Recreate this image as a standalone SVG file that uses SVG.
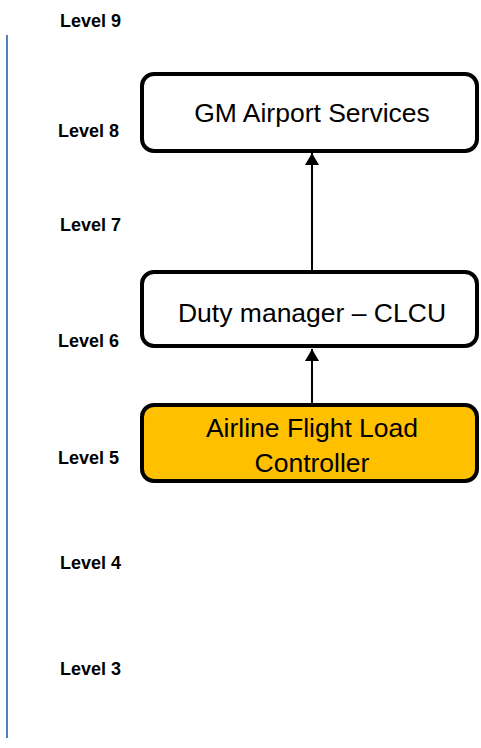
<svg xmlns="http://www.w3.org/2000/svg" width="481" height="748" viewBox="0 0 481 748">
<style>
.lvl{font-family:"Liberation Sans",Arial,sans-serif;font-weight:bold;font-size:18px;fill:#000}
.box{stroke:#000;stroke-width:4;fill:#fff}
.txt{font-family:"Liberation Sans",Arial,sans-serif;font-size:26.5px;fill:#000;text-anchor:middle}
.conn{stroke:#000;stroke-width:2;fill:none}
</style>
<defs>
<marker id="ah" markerWidth="14" markerHeight="14" refX="12" refY="7" orient="auto" markerUnits="userSpaceOnUse">
<path d="M0,0 L12,7 L0,14 Z" fill="#000"/>
</marker>
</defs>
<rect width="481" height="748" fill="#fff"/>
<line x1="7" y1="35" x2="7" y2="738" stroke="#4F81BD" stroke-width="2"/>
<g id="levels">
<text class="lvl" x="60" y="27">Level 9</text>
<text class="lvl" x="58" y="137">Level 8</text>
<text class="lvl" x="60" y="231">Level 7</text>
<text class="lvl" x="58" y="347">Level 6</text>
<text class="lvl" x="58" y="464">Level 5</text>
<text class="lvl" x="60" y="569">Level 4</text>
<text class="lvl" x="60" y="675">Level 3</text>
</g>
<g id="gm">
<rect class="box" x="142" y="74" width="335" height="77" rx="12"/>
<text class="txt" x="312" y="122">GM Airport Services</text>
</g>
<g id="duty">
<rect class="box" x="142" y="272" width="335" height="74" rx="12"/>
<text class="txt" x="312" y="322">Duty manager – CLCU</text>
</g>
<g id="flc">
<rect class="box" x="142" y="405" width="335" height="76" rx="12" style="fill:#FFC000"/>
<text class="txt" x="312" y="437">Airline Flight Load</text>
<text class="txt" x="312" y="472">Controller</text>
</g>
<g id="connectors">
<line class="conn" x1="312" y1="270" x2="312" y2="153" marker-end="url(#ah)"/>
<line class="conn" x1="312" y1="403" x2="312" y2="349" marker-end="url(#ah)"/>
</g>
</svg>
